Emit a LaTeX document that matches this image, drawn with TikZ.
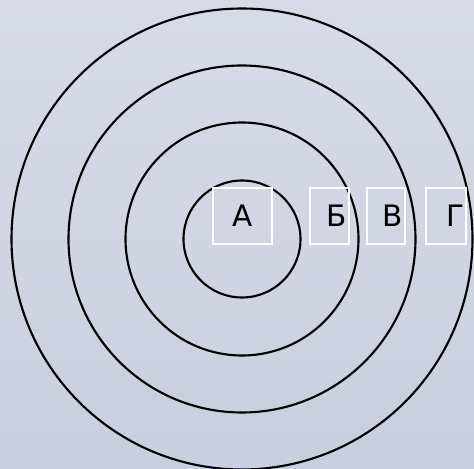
\documentclass[tikz,border=0pt]{standalone}
\usepackage{fontspec}
\setmainfont{DejaVu Sans}
\definecolor{bgtop}{HTML}{D8DBE7}
\definecolor{bgbot}{HTML}{C9CEE0}
\begin{document}
\begin{tikzpicture}[x=0.02cm, y=-0.02cm,
  ring/.style={draw=black, line width=1.2pt},
  letterbox/.style={draw=white, line width=0.8pt, minimum height=56*0.02cm, inner xsep=1pt, inner ysep=0pt, font=\fontsize{16.8}{18}\selectfont}
]
\shade[top color=bgtop, bottom color=bgbot] (0,0) rectangle (474,469);
\useasboundingbox (0,0) rectangle (474,469);
\coordinate (centre) at (242,239);
\foreach \r in {58.5,116.5,173.5,230.5}
  \draw[ring] (centre) circle (\r);
\node[letterbox, minimum width=59*0.02cm] (a) at (242.5,216) {А};
\node[letterbox, text width=39*0.02cm-2pt, align=right] (b) at (329.5,216) {Б};
\node[letterbox, text width=38*0.02cm-2pt, align=right] (v) at (386,216) {В};
\node[letterbox, text width=40*0.02cm-2pt, align=right] (g) at (446,216) {Г};
\end{tikzpicture}
\end{document}
